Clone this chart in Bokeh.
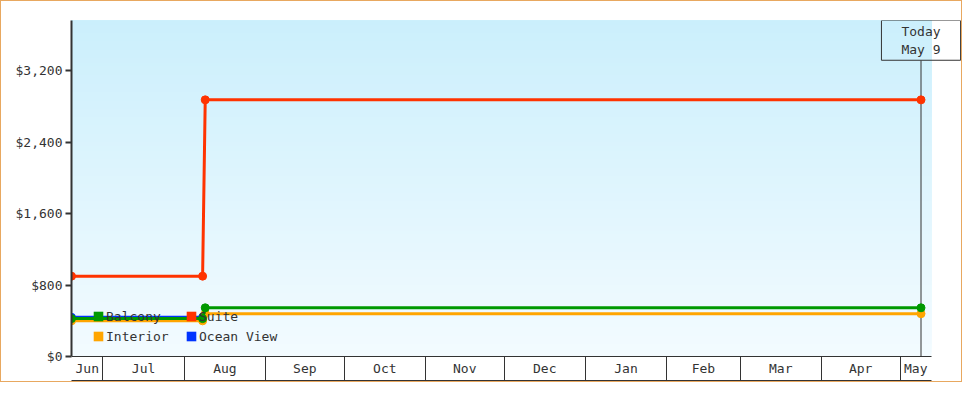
import numpy as np
import pandas as pd
from bokeh.plotting import figure
from bokeh.models import (Range1d, FixedTicker, DatetimeTickFormatter, NumeralTickFormatter,
                          Label, Legend, LegendItem, ColumnDataSource)
from bokeh.embed import file_html
from bokeh.resources import INLINE

# ---------------- data ----------------
categories = ["Balcony", "Suite", "Interior", "Ocean View"]
colors = ["#009900", "#FF3300", "#FFA500", "#0033FF"]

balcony_dates = ["2024-06-19", "2024-08-08", "2024-08-09", "2025-05-09"]
balcony_prices = [424, 424, 545, 545]
suite_dates = ["2024-06-19", "2024-08-08", "2024-08-09", "2025-05-09"]
suite_prices = [899, 899, 2872, 2872]
interior_dates = ["2024-06-19", "2024-08-08", "2024-08-09", "2025-05-09"]
interior_prices = [399, 399, 479, 479]
ocean_dates = ["2024-06-19", "2024-08-08"]
ocean_prices = [438, 438]

y_ticks = [0, 800, 1600, 2400, 3200]
y_max = 3760
x_start = "2024-06-19"
x_end = "2025-05-13"
today = "2025-05-09"
today_text = "Today\nMay 9"

# ---------------- styling ----------------
FONT = "DejaVu Sans Mono"
TXT = "#333333"
W, H = 962, 382
ML, MR, MT, MB = 70, 0, 19, 3
frame_w = W - ML - MR
frame_h = H - MT - MB
plot_px = 860            # width of the shaded chart area inside the frame
band_px = 24             # height of the month band
y_min = -band_px * y_max / (frame_h - band_px)

t0, t1 = pd.Timestamp(x_start), pd.Timestamp(x_end)
view_end = t0 + (t1 - t0) * (frame_w / plot_px)


def ms(d):
    return pd.Timestamp(d).value / 1e6


p = figure(width=W, height=H, x_axis_type="datetime",
           x_range=Range1d(t0, view_end), y_range=Range1d(y_min, y_max),
           output_backend="svg", toolbar_location=None,
           min_border_left=ML, min_border_right=MR, min_border_top=MT, min_border_bottom=MB)
p.styles = {"border": "1px solid #E8A860"}
p.outline_line_color = None
p.xgrid.visible = False
p.ygrid.visible = False
p.background_fill_color = "white"
p.border_fill_color = "white"

# gradient background (stacked strips, darker towards top)
n = 80
bottoms = np.linspace(0, y_max, n + 1)[:-1]
top_rgb = np.array([0xCB, 0xEF, 0xFC])
bot_rgb = np.array([0xF3, 0xFB, 0xFF])
grad_cols = []
for b in bottoms:
    f = (b + y_max / n / 2) / y_max
    c = np.round(bot_rgb + (top_rgb - bot_rgb) * f).astype(int)
    grad_cols.append("#%02x%02x%02x" % tuple(c))
gsrc = ColumnDataSource(dict(l=[t0] * n, r=[t1] * n, b=list(bottoms), t=[y_max] * n, c=grad_cols))
p.quad(left="l", right="r", bottom="b", top="t", fill_color="c", line_color=None,
       source=gsrc, level="image")

# zero line (top of month band)
p.segment(x0=[t0], y0=[0], x1=[t1], y1=[0], line_color=TXT, line_width=1)

# today marker line
y_per_px = (y_max - y_min) / frame_h
box_h = 40
p.segment(x0=[pd.Timestamp(today)], y0=[0], x1=[pd.Timestamp(today)],
          y1=[y_max - box_h * y_per_px], line_color=TXT, line_width=1)

# series
series = [
    ("Ocean View", ocean_dates, ocean_prices, colors[3]),
    ("Interior", interior_dates, interior_prices, colors[2]),
    ("Balcony", balcony_dates, balcony_prices, colors[0]),
    ("Suite", suite_dates, suite_prices, colors[1]),
]
for name, d, v, c in series:
    src = ColumnDataSource(dict(x=pd.to_datetime(d), y=v))
    p.line("x", "y", source=src, line_color=c, line_width=3)
    p.scatter("x", "y", source=src, size=8, marker="circle", fill_color=c, line_color=c)

# legend with square swatches (proxy renderers, nothing drawn in the plot)
items = []
for name, c in zip(categories, colors):
    proxy = ColumnDataSource(dict(l=[np.nan], r=[np.nan], b=[np.nan], t=[np.nan]))
    rr = p.quad(left="l", right="r", bottom="b", top="t", source=proxy,
                fill_color=c, line_color=None)
    items.append(LegendItem(label=name, renderers=[rr]))
legend = Legend(items=items, location=(21, 34), orientation="horizontal", ncols=2,
                glyph_width=12, glyph_height=12, label_standoff=2, label_width=79,
                label_height=20, spacing=0, padding=0, margin=0,
                border_line_color=None, background_fill_alpha=0,
                label_text_font=FONT, label_text_font_size="13px", label_text_color=TXT)
legend.level = "underlay"
p.add_layout(legend)

# today label box
p.add_layout(Label(x=ms(today), y=y_max, text=today_text, text_align="center",
                   text_baseline="top", text_font=FONT, text_font_size="13px",
                   text_color=TXT, text_line_height=1.25,
                   border_line_color=TXT, border_line_width=1,
                   background_fill_color=None, padding=(20, 20, 3, 3)))

# y axis
ya = p.yaxis[0]
ya.ticker = FixedTicker(ticks=y_ticks)
ya.formatter = NumeralTickFormatter(format="$0,0")
ya.bounds = (0, y_max)
ya.axis_line_color = TXT
ya.axis_line_width = 2
ya.major_tick_line_color = TXT
ya.major_tick_line_width = 2
ya.major_tick_out = 6
ya.major_tick_in = 0
ya.minor_tick_line_color = None
ya.major_label_standoff = 3
ya.major_label_text_font = FONT
ya.major_label_text_font_size = "13px"
ya.major_label_text_color = TXT

# x axis: month cells
bounds_dt = list(pd.date_range(t0, t1, freq="MS"))
edges = [t0] + bounds_dt + [t1]
centers = [ms(a + (b - a) / 2) for a, b in zip(edges[:-1], edges[1:])]
xa = p.xaxis[0]
xa.ticker = FixedTicker(ticks=centers, minor_ticks=[ms(b) for b in bounds_dt])
fmt = "%b"
xa.formatter = DatetimeTickFormatter(microseconds=fmt, milliseconds=fmt, seconds=fmt, minsec=fmt,
                                     minutes=fmt, hourmin=fmt, hours=fmt, days=fmt,
                                     months=fmt, years=fmt)
xa.bounds = (ms(t0), ms(t1))
xa.axis_line_color = TXT
xa.axis_line_width = 1
xa.major_tick_line_color = None
xa.major_tick_in = 0
xa.major_tick_out = 0
xa.minor_tick_line_color = TXT
xa.minor_tick_line_width = 1
xa.minor_tick_in = band_px
xa.minor_tick_out = 0
xa.major_label_standoff = -20
xa.major_label_text_font = FONT
xa.major_label_text_font_size = "13px"
xa.major_label_text_color = TXT

open("out.html", "w").write(file_html(p, INLINE))
